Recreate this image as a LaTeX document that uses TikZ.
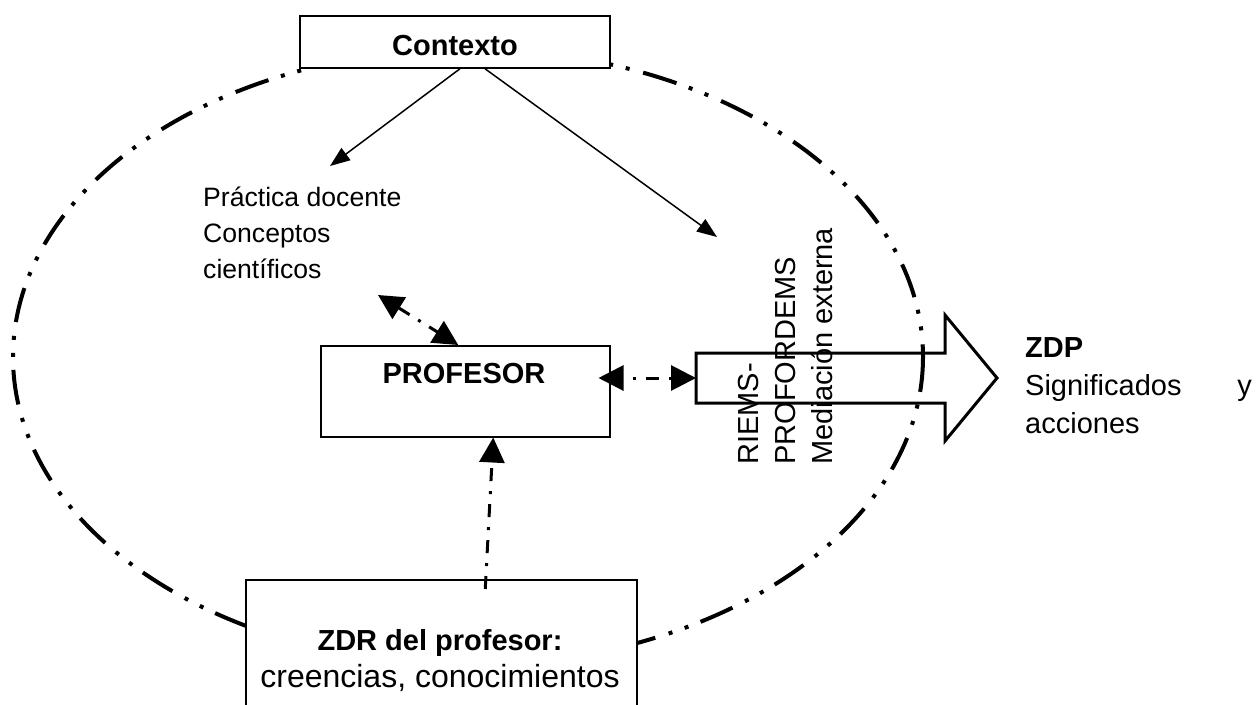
\documentclass[tikz,border=0pt]{standalone}
\usepackage{fontspec}
\setmainfont{Liberation Sans}
\usetikzlibrary{arrows.meta}
\newcommand\diagfont{\fontsize{29}{35}\selectfont}
\newcommand\smallfont{\fontsize{26.6}{32}\selectfont}
\newcommand\largefont{\fontsize{32}{38}\selectfont}
\begin{document}
\begin{tikzpicture}[x=1pt,y=-1pt,
  box/.style={draw, line width=1.5pt, fill=white, inner sep=0pt},
  lbl/.style={inner sep=0pt, font=\diagfont},
  blbl/.style={inner sep=0pt, font=\diagfont\bfseries},
  thinarrow/.style={line width=1.5pt, -{Triangle[length=20pt,width=15pt]}},
  dasharrow/.style={line width=3pt, dash pattern=on 13pt off 10pt on 3pt off 10pt,
    {Triangle[length=25pt,width=25pt]}-{Triangle[length=25pt,width=25pt]}},
  dashtip/.style={line width=3pt, dash pattern=on 13pt off 10pt on 3pt off 10pt,
    -{Triangle[length=25pt,width=25pt]}},
  oval/.style={line width=4pt, dash pattern=on 35pt off 13pt on 4pt off 13pt on 4pt off 14pt},
  block/.style={draw, line width=3pt, fill=white, line join=miter}]
\clip (0,0) rectangle (1257,704);
\fill[white] (0,0) rectangle (1257,704);

% block arrow towards ZDP
\draw[block] (696,353) -- (945,353) -- (945,315) -- (997,378) -- (945,441)
  -- (945,403) -- (696,403) -- cycle;
\coordinate (zdptail) at (696,378);

% dash-dot oval
\draw[oval] (468,357) ellipse [x radius=455, y radius=308];

% boxes
\node[box, minimum width=310, minimum height=52] (ctxbox) at (455,42) {};
\node[blbl, anchor=base] (ctx) at (455,55) {Contexto};

\node[box, minimum width=289, minimum height=91, anchor=north west] (profbox) at (320,345) {};
\node[blbl, anchor=base] (prof) at (464,383) {PROFESOR};

\node[box, minimum width=391, minimum height=141, anchor=north west] (zdrbox) at (245,579) {};
\node[blbl, anchor=base] (zdr1) at (440,650) {ZDR del profesor:};
\node[lbl, font=\largefont, anchor=base] (zdr2) at (440,687) {creencias, conocimientos};

% practice text
\node[lbl, font=\smallfont, anchor=base west] (prac1) at (203,206) {Práctica docente};
\node[lbl, font=\smallfont, anchor=base west] (prac2) at (203,242) {Conceptos};
\node[lbl, font=\smallfont, anchor=base west] (prac3) at (203,278) {científicos};

% rotated text on the block arrow
\node[lbl, rotate=90, anchor=base west] (riems) at (758,465) {RIEMS-};
\node[lbl, rotate=90, anchor=base west] (proford) at (795,465) {PROFORDEMS};
\node[lbl, rotate=90, anchor=base west] (mediac) at (832,465) {Mediación externa};

% ZDP text
\node[blbl, anchor=base west] (zdp) at (1025,357) {ZDP};
\node[lbl, anchor=base west] (signif) at (1025,395) {Significados};
\node[lbl, anchor=base east] (yword) at (1252,395) {y};
\node[lbl, anchor=base west] (acc) at (1025,433) {acciones};

% connectors
\coordinate (practip) at (330,166);
\coordinate (medtip) at (717,237);
\draw[thinarrow] ([xshift=5pt]ctxbox.south) -- (practip);
\draw[thinarrow] ([xshift=30pt]ctxbox.south) -- (medtip);

\coordinate (pracend) at (378,295);
\draw[dasharrow] (pracend) -- ([xshift=-7pt]profbox.north);
\draw[dasharrow, dash phase=13pt] ([xshift=-12pt]profbox.east |- zdptail) -- (zdptail);
\draw[dashtip] ([xshift=44pt,yshift=-10pt]zdrbox.north) -- ([xshift=28pt]profbox.south);
\end{tikzpicture}
\end{document}
